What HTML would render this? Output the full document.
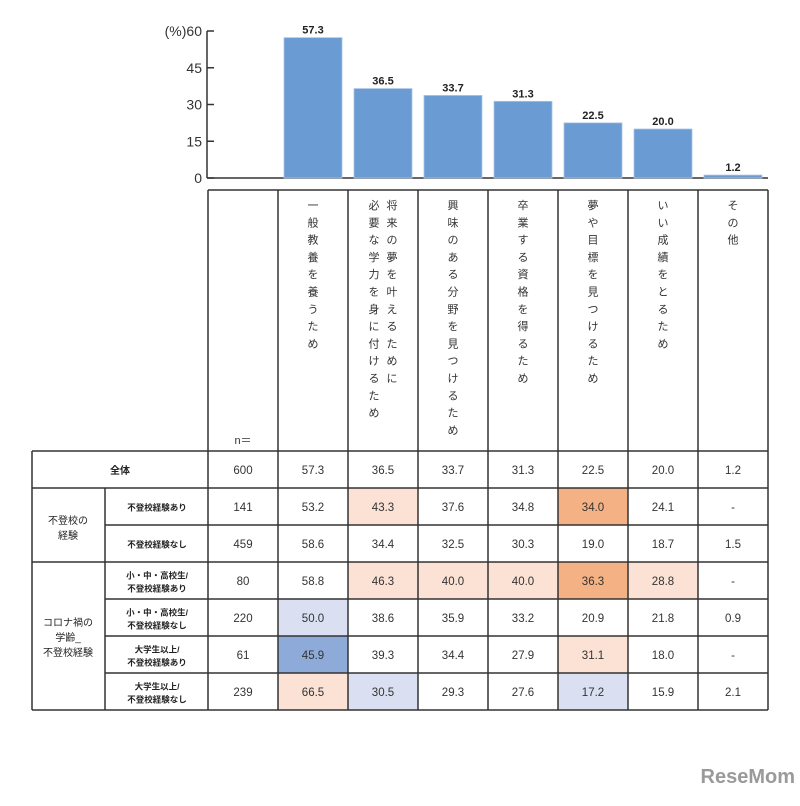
<!DOCTYPE html>
<html><head><meta charset="utf-8"><style>
body{margin:0;background:#fff;width:800px;height:801px;overflow:hidden}
svg text{font-family:"Liberation Sans","Noto Sans CJK JP",sans-serif}
</style></head><body>
<svg id="c" width="800" height="801" xmlns="http://www.w3.org/2000/svg">
<g id="axis"></g><g id="bars"></g><g id="table"></g>
<text x="795" y="783" text-anchor="end" font-size="20" font-weight="bold" fill="#9a9a9a">ReseMom</text>
</svg>
<script>
const categories=["一般教養を養うため","将来の夢を叶えるために|必要な学力を身に付けるため","興味のある分野を見つけるため","卒業する資格を得るため","夢や目標を見つけるため","いい成績をとるため","その他"];
const values=[57.3,36.5,33.7,31.3,22.5,20.0,1.2];
const yTicks=[0,15,30,45,60];
const rowLabels=["不登校経験あり","不登校経験なし","小・中・高校生/|不登校経験あり","小・中・高校生/|不登校経験なし","大学生以上/|不登校経験あり","大学生以上/|不登校経験なし"];
const nValues=[600,141,459,80,220,61,239];
const tableValues=[
["57.3","36.5","33.7","31.3","22.5","20.0","1.2"],
["53.2","43.3","37.6","34.8","34.0","24.1","-"],
["58.6","34.4","32.5","30.3","19.0","18.7","1.5"],
["58.8","46.3","40.0","40.0","36.3","28.8","-"],
["50.0","38.6","35.9","33.2","20.9","21.8","0.9"],
["45.9","39.3","34.4","27.9","31.1","18.0","-"],
["66.5","30.5","29.3","27.6","17.2","15.9","2.1"]];
const highlights=[
["","","","","","",""],
["","p","","","o","",""],
["","","","","","",""],
["","p","p","p","o","p",""],
["b","","","","","",""],
["B","","","","p","",""],
["p","b","","","b","",""]];
const colorMap={p:"#fbe2d5",o:"#f4b184",b:"#dae0f1",B:"#8eaad9"};
const NS="http://www.w3.org/2000/svg";
function mk(p,tag,a,txt){const e=document.createElementNS(NS,tag);for(const k in a)e.setAttribute(k,a[k]);if(txt!==undefined)e.textContent=txt;p.appendChild(e);return e;}
const colX=i=>278+i*70;
const y0=178,y60=31;
const yS=v=>y0-(v/60)*(y0-y60);
const ax=document.getElementById('axis');
let l=mk(ax,'line',{x1:207,y1:y0,x2:768,y2:y0,stroke:'#333','stroke-width':1.5});


l=mk(ax,'line',{x1:207,y1:y60,x2:207,y2:y0,stroke:'#333','stroke-width':1.5});


yTicks.forEach(t=>{
  mk(ax,'line',{x1:207,y1:yS(t),x2:214,y2:yS(t),stroke:'#333','stroke-width':1.5});
  const tx=mk(ax,'text',{x:202,y:yS(t)+5,'text-anchor':'end','font-size':14,fill:'#333'},(t===60?'(%)':'')+t);
  
  
});
const bg=document.getElementById('bars');
values.forEach((v,i)=>{
  const r=mk(bg,'rect',{x:colX(i)+6,y:yS(v),width:58,height:y0-yS(v),fill:'#6a9bd2',stroke:'#a9c5e8','stroke-width':0.8});
  
  
  const t=mk(bg,'text',{x:colX(i)+35,y:yS(v)-4,'text-anchor':'middle','font-size':11,'font-weight':'bold',fill:'#222'},v.toFixed(1));
  
  
});
const tb=document.getElementById('table');
const rowTop=451,rowH=37;
// highlights
tableValues.forEach((row,r)=>row.forEach((v,c)=>{
  const h=highlights[r][c];
  if(h){mk(tb,'rect',{x:colX(c),y:rowTop+r*rowH,width:70,height:rowH,fill:colorMap[h]});}
}));
// header verticals
for(let i=0;i<=8;i++){const x=208+i*70;mk(tb,'line',{x1:x,y1:190,x2:x,y2:710,stroke:'#333','stroke-width':1.5});}
mk(tb,'line',{x1:208,y1:190,x2:768,y2:190,stroke:'#333','stroke-width':1.5});
mk(tb,'line',{x1:32,y1:rowTop,x2:32,y2:710,stroke:'#333','stroke-width':1.5});
mk(tb,'line',{x1:105,y1:rowTop+rowH,x2:105,y2:710,stroke:'#333','stroke-width':1.5});
for(let r=0;r<=7;r++){const y=rowTop+r*rowH;const x1=(r===2||r===4||r===5||r===6)?105:32;mk(tb,'line',{x1:x1,y1:y,x2:768,y2:y,stroke:'#333','stroke-width':1.5});}
let t=mk(tb,'text',{x:243,y:444,'text-anchor':'middle','font-size':11,fill:'#333'},'n＝');


// category headers vertical
categories.forEach((c,i)=>{
  const parts=c.split('|');
  const cx=colX(i)+35;
  parts.forEach((p,k)=>{
    const x=parts.length>1?(k===0?cx+9:cx-9):cx;
    [...p].forEach((ch,j)=>{
      const e=mk(tb,'text',{x:x,y:209+j*17.3,'text-anchor':'middle','font-size':11,fill:'#333'},ch);
      
      
    });
  });
});
// row labels
t=mk(tb,'text',{x:120,y:rowTop+23,'text-anchor':'middle','font-size':10,'font-weight':'bold',fill:'#222'},'全体');


t=mk(tb,'text',{x:68,y:524,'text-anchor':'middle','font-size':10,fill:'#222'},'不登校の');


mk(tb,'text',{x:68,y:539,'text-anchor':'middle','font-size':10,fill:'#222'},'経験');
['コロナ禍の','学齢_','不登校経験'].forEach((s,k)=>{
  const e=mk(tb,'text',{x:68,y:626+k*15,'text-anchor':'middle','font-size':10,fill:'#222'},s);
  
  
});
rowLabels.forEach((lab,r)=>{
  const parts=lab.split('|');const yc=rowTop+(r+1)*rowH+rowH/2;
  parts.forEach((p,k)=>{
    const y=parts.length>1?yc-2+k*13:yc+4;
    const e=mk(tb,'text',{x:157,y:y,'text-anchor':'middle','font-size':8.5,'font-weight':'bold',fill:'#222'},p);
    
    
  });
});
nValues.forEach((n,r)=>{
  const e=mk(tb,'text',{x:243,y:rowTop+r*rowH+23,'text-anchor':'middle','font-size':11.5,fill:'#333'},n);
  
  
});
tableValues.forEach((row,r)=>row.forEach((v,c)=>{
  const e=mk(tb,'text',{x:colX(c)+35,y:rowTop+r*rowH+23,'text-anchor':'middle','font-size':11.5,fill:'#333'},v);
  
  
}));
</script>
</body></html>
